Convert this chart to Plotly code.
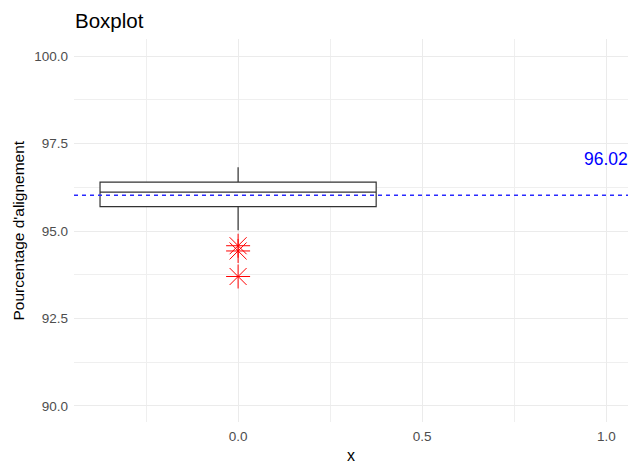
import plotly.graph_objects as go

# Data
box_position = [0]
q1 = [95.70]
median = [96.11]
q3 = [96.40]
lower_whisker = [95.02]
upper_whisker = [96.82]
outliers_y = [94.58, 94.43, 93.70]
outliers_x = [0, 0, 0]
mean_value = 96.02

fig = go.Figure()

fig.add_trace(go.Box(
    x=box_position, q1=q1, median=median, q3=q3,
    lowerfence=lower_whisker, upperfence=upper_whisker,
    width=0.75, whiskerwidth=0, boxpoints=False,
    fillcolor="white", line=dict(color="#333333", width=1.2),
    showlegend=False, hoverinfo="skip",
))

fig.add_trace(go.Scatter(
    x=outliers_x, y=outliers_y, mode="markers",
    marker=dict(symbol="asterisk-open", size=20, color="red",
                line=dict(color="red", width=1)),
    showlegend=False,
))

fig.add_hline(y=mean_value, line=dict(color="#2a2aff", dash="4px,4px", width=1.5))
fig.add_annotation(x=1.0, y=mean_value, text=f"{mean_value:.2f}", showarrow=False,
                   yshift=36, font=dict(color="blue", size=17.5, family="Liberation Sans, Arial"))

# y-axis title as a rotated annotation so it can sit where the reference has it
fig.add_annotation(x=-56 / 554, xref="paper", xanchor="center", y=0.5, yref="paper",
                   yanchor="middle", textangle=-90,
                   text="Pourcentage d'alignement", showarrow=False,
                   font=dict(size=15.5, color="black", family="Liberation Sans, Arial"))

fig.update_layout(
    width=629, height=464,
    margin=dict(l=74, r=1, t=39, b=42, autoexpand=False),
    plot_bgcolor="white", paper_bgcolor="white",
    font=dict(family="Liberation Sans, Arial", color="#4d4d4d", size=13.5),
    title=dict(text="Boxplot", x=75 / 629, xref="container", xanchor="left",
               y=1 - 21 / 464, yref="container", yanchor="middle",
               font=dict(size=20.5, color="black")),
    xaxis=dict(
        type="linear", range=[-0.4457, 1.059], automargin=False,
        tickvals=[0, 0.5, 1.0], ticktext=["0.0", "0.5", "1.0"],
        showgrid=True, gridcolor="#ebebeb", gridwidth=1, zeroline=False,
        minor=dict(tickvals=[-0.25, 0.25, 0.75], showgrid=True, gridcolor="#efefef", gridwidth=1),
        showline=False, ticks="", ticklabelstandoff=4,
        title=dict(text="x", font=dict(size=16, color="black")),
    ),
    yaxis=dict(
        range=[89.54, 100.49], automargin=False,
        tickvals=[90, 92.5, 95, 97.5, 100], ticktext=["90.0", "92.5", "95.0", "97.5", "100.0"],
        showgrid=True, gridcolor="#ebebeb", gridwidth=1, zeroline=False,
        minor=dict(tickvals=[91.25, 93.75, 96.25, 98.75], showgrid=True, gridcolor="#efefef", gridwidth=1),
        showline=False, ticks="", ticklabelstandoff=5,
    ),
)

fig.write_html("out.html", config={"displayModeBar": False},
               post_script="document.body.style.margin='0';document.body.style.overflow='hidden';")
